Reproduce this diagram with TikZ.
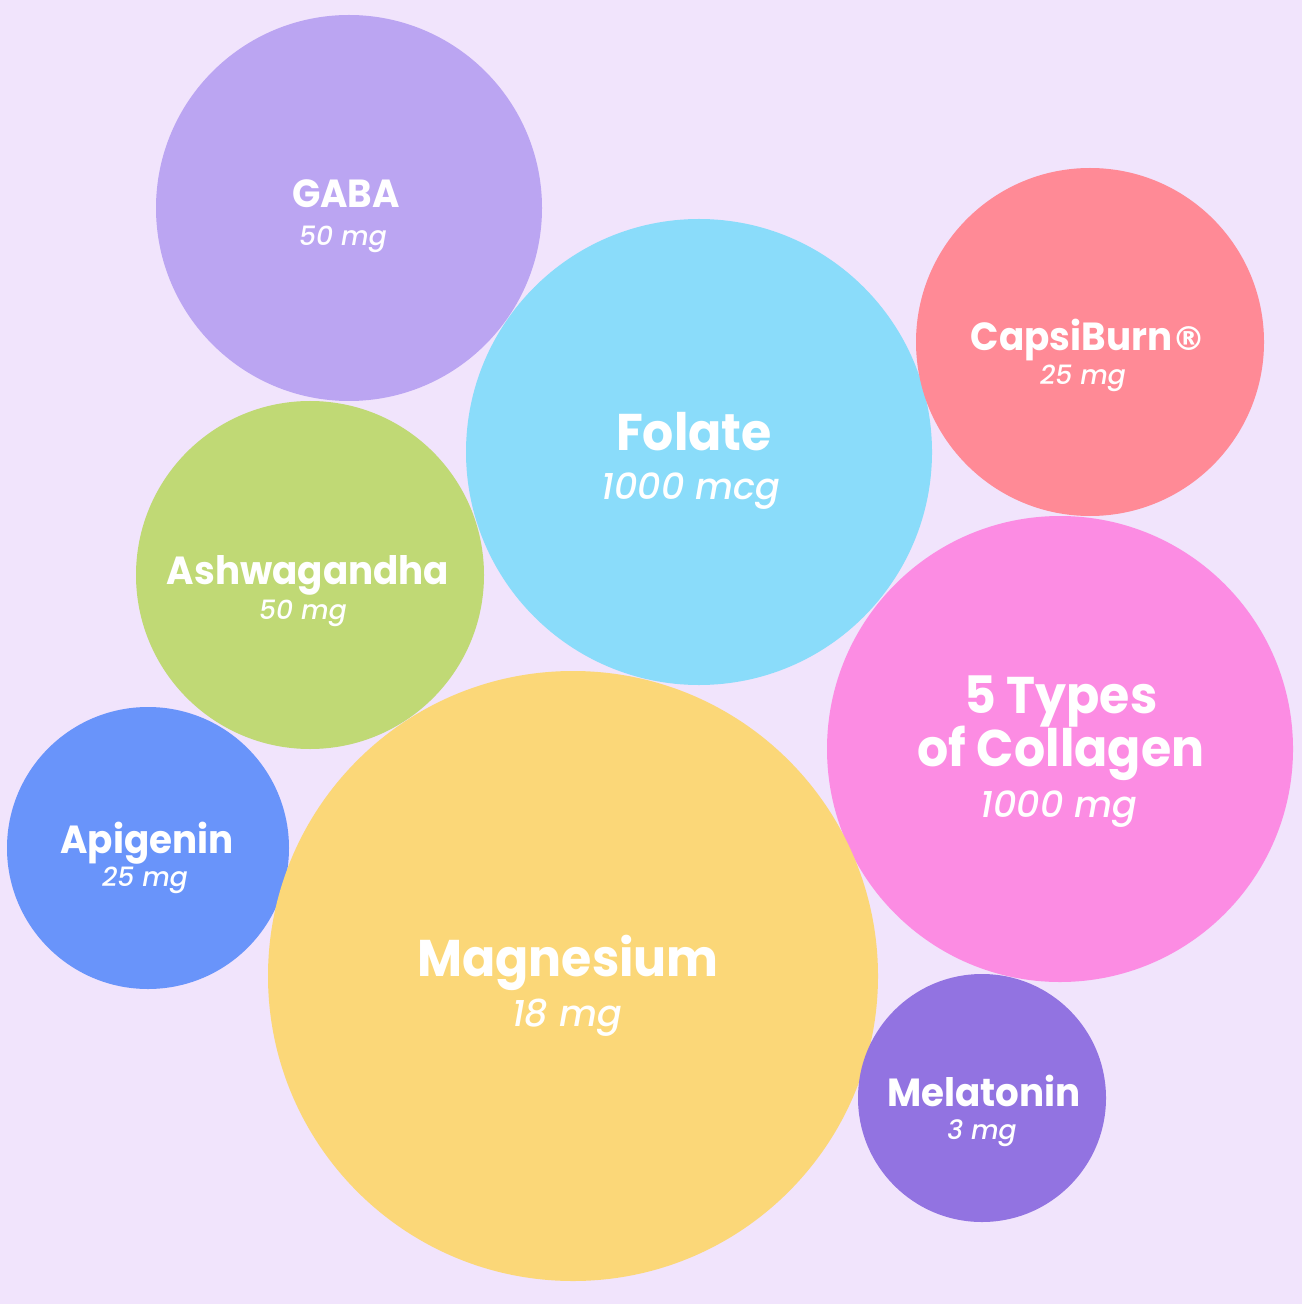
\documentclass[tikz,border=0pt]{standalone}
\usepackage{fontspec}
\setmainfont{Poppins}[BoldFeatures={FakeStretch=0.95}, ItalicFont={Poppins Medium Italic}]
\newfontfamily\regfont{DejaVu Sans}
\newcommand{\regmark}{{\regfont\fontsize{16.5}{16.5}\selectfont ®}}
\usepackage{tikz}

\definecolor{bgcol}{HTML}{F1E4FC}
\definecolor{gabacol}{HTML}{BBA5F2}
\definecolor{folatecol}{HTML}{8ADCFA}
\definecolor{capsicol}{HTML}{FF8A96}
\definecolor{ashwacol}{HTML}{C0D975}
\definecolor{collacol}{HTML}{FC8CE3}
\definecolor{apigcol}{HTML}{6994FA}
\definecolor{magcol}{HTML}{FBD778}
\definecolor{melacol}{HTML}{9273E1}

\tikzset{
  itemname/.style={text=white, anchor=base, font=\bfseries\fontsize{#1}{#1}\selectfont, inner sep=0pt},
  itemdose/.style={text=white, anchor=base, font=\itshape\fontsize{#1}{#1}\selectfont, inner sep=0pt}
}

\begin{document}
\begin{tikzpicture}[x=0.5pt,y=-0.5pt]
\fill[bgcol] (0,0) rectangle (1302,1304) ;
\useasboundingbox (0,0) rectangle (1302,1304) ;
\fill[gabacol] (349,208) circle (193) ;
\fill[folatecol] (699,452) circle (233) ;
\fill[capsicol] (1090,342) circle (174) ;
\fill[ashwacol] (310,575) circle (174) ;
\fill[collacol] (1060,749) circle (233) ;
\fill[apigcol] (148,848) circle (141) ;
\fill[magcol] (573,976) circle (305) ;
\fill[melacol] (982,1098) circle (124) ;
\node[itemname=19.6] (gaba) at (346,208) {GABA} ;
\node[itemdose=13.3] (gabadose) at (343,246) {50 mg} ;
\node[itemname=25.8] (folate) at (694,450) {Folate} ;
\node[itemdose=18.3] (folatedose) at (691,499) {1000 mcg} ;
\node[itemname=19.6] (capsi) at (1088,351) {CapsiBurn\regmark} ;
\node[itemdose=13.3] (capsidose) at (1083,385) {25 mg} ;
\node[itemname=19.6] (ashwa) at (308,584) {Ashwagandha} ;
\node[itemdose=13.3] (ashwadose) at (303,619) {50 mg} ;
\node[itemname=25.8] (colla) at (1061,713) {5 Types} ;
\node[itemname=25.8] (collb) at (1061,766) {of Collagen} ;
\node[itemdose=18.3] (colladose) at (1059,817) {1000 mg} ;
\node[itemname=19.6] (apig) at (147,853) {Apigenin} ;
\node[itemdose=13.3] (apigdose) at (145,886) {25 mg} ;
\node[itemname=25.8] (mag) at (568,976) {Magnesium} ;
\node[itemdose=18.3] (magdose) at (567,1026) {18 mg} ;
\node[itemname=19.6] (mela) at (984,1106) {Melatonin} ;
\node[itemdose=13.3] (meladose) at (982,1139) {3 mg} ;
\end{tikzpicture}
\end{document}
